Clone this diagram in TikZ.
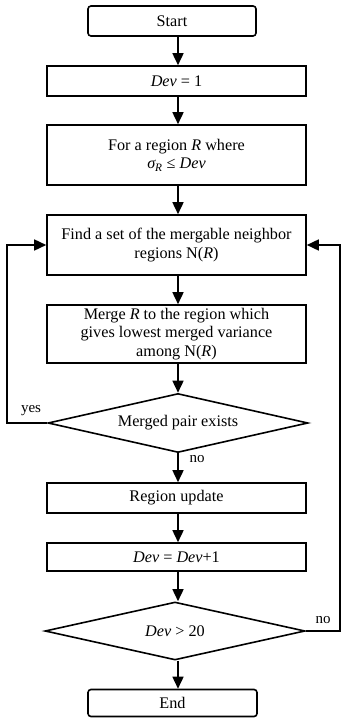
\documentclass[tikz,border=0pt]{standalone}
\usepackage{fontspec}
\setmainfont{Liberation Serif}
\usetikzlibrary{arrows.meta,shapes.geometric}
\begin{document}
\begin{tikzpicture}[x=1pt,y=-1pt,line width=1.6pt,
  every node/.style={font=\fontsize{16.2}{18.5}\selectfont},
  box/.style={draw,rectangle,minimum width=259pt,inner sep=0pt,align=center},
  term/.style={draw,rectangle,rounded corners=3pt,minimum width=168pt,inner sep=0pt},
  decide/.style={draw,diamond,aspect=4.4,inner sep=0pt,minimum width=260pt,minimum height=59pt},
  arr/.style={-{Triangle[length=12pt,width=11pt]}},
  lbl/.style={font=\fontsize{15}{16}\selectfont,inner sep=0pt}
]
\useasboundingbox (0,0) rectangle (342,719);
\node[term,minimum height=30pt] (start) at (172,21) {Start};
\node[box,minimum height=30pt] (dev1) at (176.5,81) {\textit{Dev} = 1};
\node[box,minimum height=60pt] (forR) at (176.5,155) {For a region \textit{R} where\\{\itshape σ}\textsubscript{\itshape R} ≤ \textit{Dev}};
\node[box,minimum height=60pt] (find) at (176.5,245) {Find a set of the mergable neighbor\\regions N(\textit{R})};
\node[box,minimum height=58pt] (merge) at (176.5,334) {Merge \textit{R} to the region which\\gives lowest merged variance\\among N(\textit{R})};
\node[decide] (d1) at (178,423) {Merged pair exists};
\node[box,minimum height=30pt] (update) at (176.5,498) {Region update};
\node[box,minimum height=28pt] (devinc) at (176.5,557) {\textit{Dev} = \textit{Dev}+1};
\node[decide,minimum height=58pt] (d2) at (175,631) {\textit{Dev} > 20};
\node[term,minimum height=27pt,minimum width=169pt] (end) at (172.5,703) {End};

\coordinate (ax) at (178,0);
\coordinate (lx) at (7,0);
\coordinate (rx) at (340,0);

\draw[arr] (start.south -| ax) -- (dev1.north -| ax);
\draw[arr] (dev1.south -| ax) -- (forR.north -| ax);
\draw[arr] (forR.south -| ax) -- (find.north -| ax);
\draw[arr] (find.south -| ax) -- (merge.north -| ax);
\draw[arr] (merge.south -| ax) -- (d1.north);
\draw[arr] (d1.south) -- (update.north -| ax);
\draw[arr] (update.south -| ax) -- (devinc.north -| ax);
\draw[arr] (devinc.south -| ax) -- (d2.north -| ax);
\draw[arr] (d2.south -| ax) -- (end.north -| ax);

\draw[arr] (d1.west) -- (d1.west -| lx) |- (find.west);
\draw[arr] (d2.east) -- (d2.east -| rx) |- (find.east);

\node[lbl] (yes) at (31,411) {yes};
\node[lbl] (no1) at (197,459) {no};
\node[lbl] (no2) at (323,620) {no};
\end{tikzpicture}
\end{document}
